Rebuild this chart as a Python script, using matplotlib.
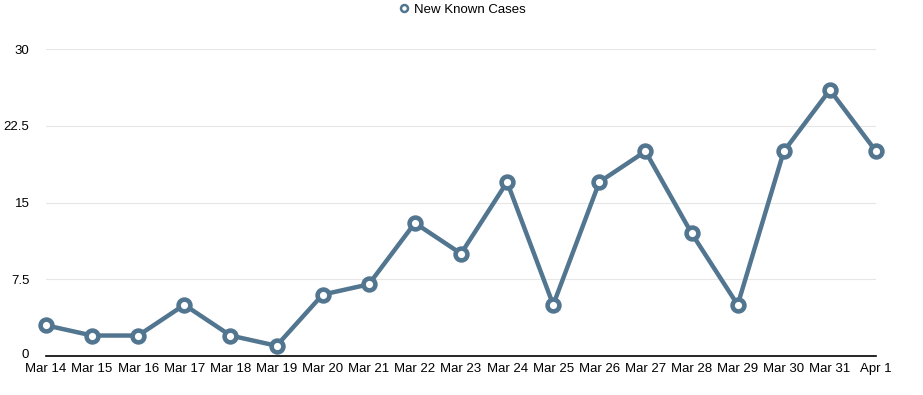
import matplotlib
matplotlib.use("Agg")
import matplotlib.pyplot as plt
from matplotlib.lines import Line2D
from matplotlib.transforms import ScaledTranslation

dates = ["Mar 14", "Mar 15", "Mar 16", "Mar 17", "Mar 18", "Mar 19", "Mar 20",
         "Mar 21", "Mar 22", "Mar 23", "Mar 24", "Mar 25", "Mar 26", "Mar 27",
         "Mar 28", "Mar 29", "Mar 30", "Mar 31", "Apr 1"]
new_cases = [3, 2, 2, 5, 2, 1, 6, 7, 13, 10, 17, 5, 17, 20, 12, 5, 20, 26, 20]
yticks = [0, 7.5, 15, 22.5, 30]
ytick_labels = ["0", "7.5", "15", "22.5", "30"]

color = "#527590"
plt.rcParams['font.family'] = ['Liberation Sans', 'DejaVu Sans']

fig = plt.figure(figsize=(9.23, 3.95), dpi=100)
ax = fig.add_axes([46/923, 1-356/395, (876-46)/923, (356-49)/395])

x = list(range(len(dates)))
ax.plot(x, new_cases, color=color, lw=3.2, marker='o', markersize=8.5,
        markerfacecolor='white', markeredgecolor=color, markeredgewidth=3.3,
        clip_on=False, zorder=3)

ax.set_xlim(0, len(dates) - 1)
ax.set_ylim(0, 30)
ax.set_yticks(yticks)
ax.set_yticklabels(ytick_labels)
ax.set_xticks(x)
ax.set_xticklabels(dates)
ax.grid(axis='y', color='#e6e6e6', lw=0.8)
ax.set_axisbelow(True)
for s in ['top', 'right', 'left']:
    ax.spines[s].set_visible(False)
ax.spines['bottom'].set_color('black')
ax.spines['bottom'].set_linewidth(1.2)
ax.tick_params(axis='y', length=0, pad=12, labelsize=9.5)
ax.tick_params(axis='x', length=0, pad=5, labelsize=9.5)

# nudge the "0" label up slightly, as in the reference
zero_lbl = ax.get_yticklabels()[0]
zero_lbl.set_transform(zero_lbl.get_transform() + ScaledTranslation(0, 3/100, fig.dpi_scale_trans))

handle = Line2D([], [], color=color, marker='o', linestyle='none', markersize=5,
                markerfacecolor='white', markeredgecolor=color, markeredgewidth=1.8)
fig.legend([handle], ["New Known Cases"], loc='center', bbox_to_anchor=(0.5, 1-10/395),
           frameon=False, fontsize=9.5, handletextpad=0.3, handlelength=1.0)

fig.savefig("out.png", dpi=100)
